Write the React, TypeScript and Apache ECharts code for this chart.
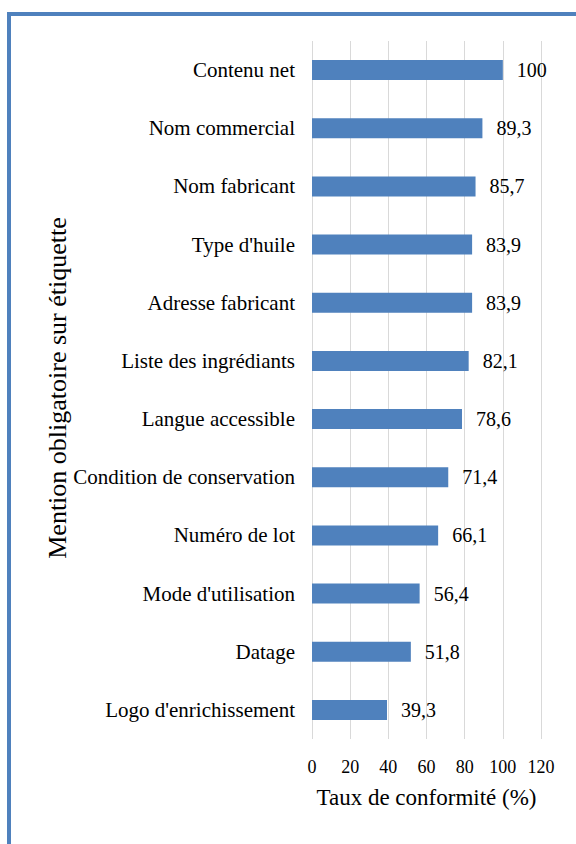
import React, { useEffect, useRef } from "react";
import * as echarts from "echarts";

const categories = [
  "Logo d'enrichissement",
  "Datage",
  "Mode d'utilisation",
  "Numéro de lot",
  "Condition de conservation",
  "Langue accessible",
  "Liste des ingrédiants",
  "Adresse fabricant",
  "Type d'huile",
  "Nom fabricant",
  "Nom commercial",
  "Contenu net",
];
const values = [39.3, 51.8, 56.4, 66.1, 71.4, 78.6, 82.1, 83.9, 83.9, 85.7, 89.3, 100];
const xTicks = [0, 20, 40, 60, 80, 100, 120];
const xTitle = "Taux de conformité (%)";
const yTitle = "Mention obligatoire sur étiquette";

const FONT = "Liberation Serif, serif";

export default function App() {
  const ref = useRef<HTMLDivElement>(null);
  useEffect(() => {
    if (!ref.current) return;
    const chart = echarts.init(ref.current, undefined, { renderer: "svg" });
    chart.setOption({
      animation: false,
      backgroundColor: "#ffffff",
      textStyle: { fontFamily: FONT },
      graphic: [
        {
          type: "rect",
          shape: { x: 9, y: 14, width: 620, height: 900 },
          style: { fill: "none", stroke: "#4f81bd", lineWidth: 4 },
          z: 10,
        },
        {
          type: "text",
          x: 57,
          y: 388,
          rotation: Math.PI / 2,
          style: {
            text: yTitle,
            font: `26px ${FONT}`,
            fill: "#000",
            align: "center",
            verticalAlign: "middle",
          },
        },
      ],
      grid: { left: 312, right: 35, top: 41, bottom: 105, containLabel: false },
      xAxis: {
        type: "value",
        min: 0,
        max: 120,
        interval: 20,
        axisLine: { show: false },
        axisTick: { show: false },
        splitLine: { show: true, lineStyle: { color: "#d9d9d9", width: 1 } },
        axisLabel: {
          color: "#000",
          fontFamily: FONT,
          fontSize: 18,
          margin: 19,
          formatter: (v: number) => (xTicks.includes(v) ? String(v) : ""),
        },
        name: xTitle,
        nameLocation: "middle",
        nameGap: 47,
        nameTextStyle: { color: "#000", fontFamily: "serif", fontSize: 23 },
      },
      yAxis: {
        type: "category",
        data: categories,
        axisLine: { show: false },
        axisTick: { show: false },
        axisLabel: {
          color: "#000",
          margin: 17,
          formatter: (v: string) => `{c|${v}}`,
          rich: { c: { fontFamily: FONT, fontSize: 21, color: "#000" } },
        },
      },
      series: [
        {
          type: "bar",
          data: values,
          barWidth: 20,
          itemStyle: { color: "#4f81bd" },
          label: {
            show: true,
            position: "right",
            distance: 14,
            color: "#000",
            fontFamily: "Times New Roman",
            fontSize: 20,
            formatter: (p: any) => String(p.value).replace(".", ","),
          },
        },
      ],
    });
    return () => chart.dispose();
  }, []);
  return (
    <div
      ref={ref}
      style={{ position: "absolute", left: 0, top: 0, width: 576, height: 844 }}
    />
  );
}
